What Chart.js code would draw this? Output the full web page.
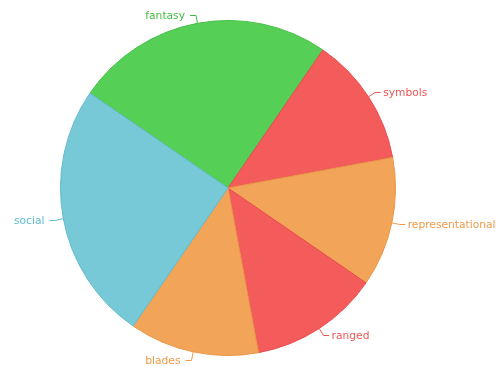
<!DOCTYPE html>
<html>
<head>
<meta charset="utf-8">
<script src="https://cdn.jsdelivr.net/npm/chart.js@4"></script>
<style>
  html, body { margin: 0; padding: 0; background: #fff; }
  #pie-chart { display: block; }
</style>
</head>
<body>
<canvas id="pie-chart" width="496" height="366"></canvas>
<script>
// Data (clockwise from the fantasy slice)
const categories = ["fantasy", "symbols", "representational", "ranged", "blades", "social"];
const counts = [2, 1, 1, 1, 1, 2];
const sliceFill = ["#55cf55", "#f45b5b", "#f2a459", "#f45b5b", "#f2a459", "#77c9d7"];
const sliceBorder = ["#45bf45", "#e84c4c", "#ea9648", "#e84c4c", "#ea9648", "#62bccb"];
const sliceText = ["#44bb44", "#f05656", "#f09a48", "#f05656", "#f09a48", "#5bbfcf"];
// End Data

// Label lines
const pieLabels = {
  id: "pieLabels",
  afterDatasetsDraw(chart) {
    const ctx = chart.ctx;
    const meta = chart.getDatasetMeta(0);
    meta.data.forEach((arc, i) => {
      const { x, y, startAngle, endAngle, outerRadius } = arc.getProps(
        ["x", "y", "startAngle", "endAngle", "outerRadius"],
        true
      );
      const mid = (startAngle + endAngle) / 2;
      const cos = Math.cos(mid);
      const sin = Math.sin(mid);
      const x1 = x + cos * outerRadius;
      const y1 = y + sin * outerRadius;
      const x2 = x + cos * (outerRadius + 8);
      const y2 = Math.round(y + sin * (outerRadius + 8)) + 0.5;
      const right = cos >= 0;
      const x3 = x2 + (right ? 5.5 : -6);

      ctx.save();
      ctx.strokeStyle = sliceText[i];
      ctx.lineWidth = 1;
      ctx.beginPath();
      ctx.moveTo(x1, y1);
      ctx.lineTo(x2, y2);
      ctx.lineTo(x3, y2);
      ctx.stroke();

      ctx.fillStyle = sliceText[i];
      ctx.font = "10.7px 'DejaVu Sans'";
      ctx.textBaseline = "alphabetic";
      ctx.textAlign = right ? "left" : "right";
      ctx.fillText(chart.data.labels[i], x3 + (right ? 2.5 : -5), y2 + 3.5);
      ctx.restore();
    });
  },
};
// End Label lines

const pieChart = document.querySelector("#pie-chart");
if (pieChart) {
  new Chart(pieChart, {
    type: "pie",
    data: {
      labels: categories,
      datasets: [
        {
          data: counts,
          backgroundColor: sliceFill,
          borderColor: sliceBorder,
          borderWidth: 1,
        },
      ],
    },
    options: {
      responsive: false,
      animation: false,
      rotation: -55.5,
      layout: {
        padding: { top: 20, bottom: 10, left: 60, right: 100 },
      },
      plugins: {
        legend: { display: false },
        tooltip: { enabled: false },
      },
    },
    plugins: [pieLabels],
  });
}
</script>
</body>
</html>
